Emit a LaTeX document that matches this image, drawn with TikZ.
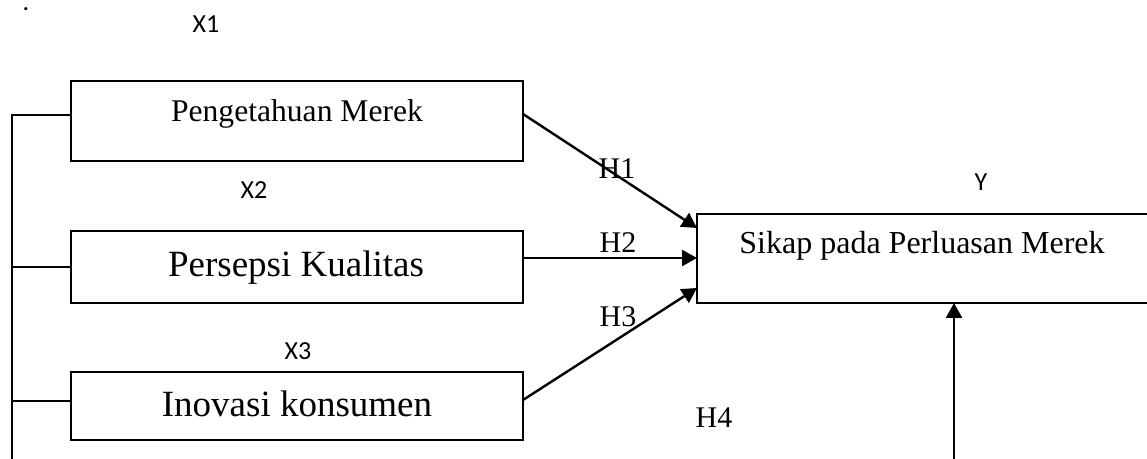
\documentclass[tikz,border=0pt]{standalone}
\usepackage{fontspec}
\setmainfont{Liberation Serif}
\newfontfamily\labelfont{Carlito}
\usetikzlibrary{arrows.meta}
\tikzset{
  varbox/.style={draw, line width=1.2pt, inner sep=0pt, outer sep=0pt, minimum width=226pt},
  boxtext/.style={anchor=base, inner sep=0pt},
  varlabel/.style={anchor=base, inner sep=0pt, font=\labelfont\fontsize{13}{15}\selectfont},
  hyplabel/.style={anchor=base, inner sep=0pt, font=\fontsize{15}{18}\selectfont},
  link/.style={line width=1.2pt, -{Triangle[length=7.5pt,width=8pt]}}
}
\begin{document}
\begin{tikzpicture}[x=0.5pt, y=-0.5pt]
\useasboundingbox (0,0) rectangle (1147,459);
% boxes
\node[varbox, minimum height=40pt] (pm) at (297,121) {};
\node[varbox, minimum height=36pt] (pk) at (297,267) {};
\node[varbox, minimum height=34pt] (ik) at (297,406) {};
\node[varbox, minimum width=227.5pt, minimum height=44.5pt] (spm) at (924.5,258.5) {};
% box texts
\node[boxtext, font=\fontsize{15.8}{19}\selectfont] (pmtext) at (297,122) {Pengetahuan Merek};
\node[boxtext, font=\fontsize{18.5}{22}\selectfont] (pktext) at (296,277) {Persepsi Kualitas};
\node[boxtext, font=\fontsize{18.5}{22}\selectfont] (iktext) at (297,417) {Inovasi konsumen};
\node[boxtext, font=\fontsize{16}{19}\selectfont] (spmtext) at (922,254) {Sikap pada Perluasan Merek};
% variable labels
\node[anchor=base, inner sep=0pt, font=\labelfont\fontsize{13}{15}\selectfont] (dot) at (26,11) {.};
\node[varlabel] (x1) at (206,33) {X1};
\node[varlabel] (x2) at (254,199) {X2};
\node[varlabel] (x3) at (298,360) {X3};
\node[varlabel] (y) at (981,191) {Y};
% left bracket
\coordinate (top) at (12,115);
\coordinate (bot) at (12,459);
\coordinate (ikjoin) at ([yshift=2.5pt]ik.west);
\draw[line width=1.2pt] (bot) -- (top) -- (top -| pm.west);
\draw[line width=1.2pt] (top |- pk.west) -- (pk.west);
\draw[line width=1.2pt] (top |- ikjoin) -- (ikjoin);
% hypotheses
\coordinate (h1s) at ([yshift=3.5pt]pm.east);
\coordinate (h1e) at ([yshift=15.25pt]spm.west);
\coordinate (h2s) at ([yshift=4.5pt]pk.east);
\coordinate (h3s) at ([yshift=3pt]ik.east);
\coordinate (h3e) at ([yshift=-14.75pt]spm.west);
\coordinate (h4s) at (954,459);
\draw[link] (h1s) -- (h1e);
\draw[link] (h2s) -- (h2s -| spm.west);
\draw[link] (h3s) -- (h3e);
\draw[link] (h4s) -- (h4s |- spm.south);
\node[hyplabel] (h1) at (617,179) {H1};
\node[hyplabel] (h2) at (618,253) {H2};
\node[hyplabel] (h3) at (618,327) {H3};
\node[hyplabel] (h4) at (714,428) {H4};
\end{tikzpicture}
\end{document}
